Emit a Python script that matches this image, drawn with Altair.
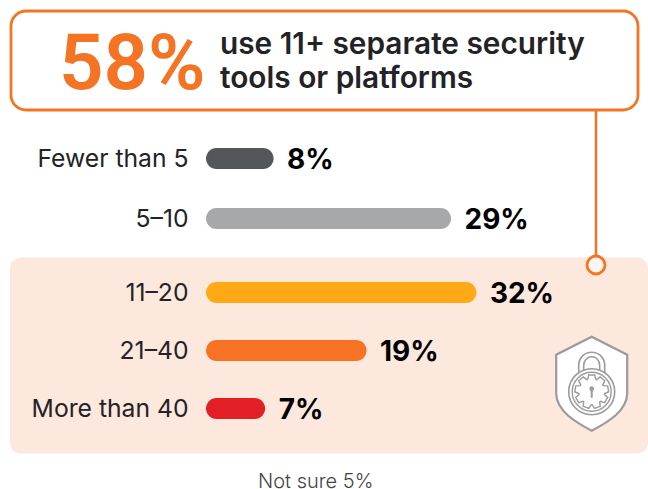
import math
import altair as alt
import pandas as pd

# Survey answers: number of separate security tools in use
categories = ["Fewer than 5", "5–10", "11–20", "21–40", "More than 40"]
shares = [8, 29, 32, 19, 7]
bar_colors = ["#54565A", "#A7A8AA", "#FFA916", "#F77223", "#E21E26"]
# distance of each row below the first one; the first two rows sit apart from the highlighted three
row_offsets = [0, 60, 134, 192, 250]

W, H = 648, 489
ORANGE = "#F47424"
PANEL = "#FDE8DD"
INK = "#232327"
FONT = "Inter"
PX_PER_POINT = 8.45
BAR_ORIGIN = 206
FIRST_ROW = 158.5

df = pd.DataFrame({
    "category": categories,
    "share": shares,
    "row": row_offsets,
    "label": [f"{v}%" for v in shares],
    "color": bar_colors,
})
single = pd.DataFrame({"k": [0]})

x_scale = alt.Scale(
    domain=[-BAR_ORIGIN / PX_PER_POINT, (W - BAR_ORIGIN) / PX_PER_POINT],
    range=[0, W], zero=False, nice=False, padding=0,
)
y_scale = alt.Scale(domain=[-FIRST_ROW, H - FIRST_ROW], range=[0, H], zero=False, nice=False, padding=0)
y_enc = alt.Y("row:Q", scale=y_scale, axis=None)


def box(x0, x1, y0, y1, **mark):
    return alt.Chart(single).mark_rect(**mark).encode(
        x=alt.value(x0), x2=alt.value(x1), y=alt.value(y0), y2=alt.value(y1)
    )


def note(text, x, y, font=FONT, **mark):
    return alt.Chart(single).mark_text(
        text=text, font=font, align="left", baseline="alphabetic", **mark
    ).encode(x=alt.value(x), y=alt.value(y))


def glyph(path, x, y, **mark):
    # size 4 makes one path unit equal one pixel
    return alt.Chart(single).mark_point(shape=path, size=4, opacity=1, **mark).encode(
        x=alt.value(x), y=alt.value(y)
    )


def gear_path(teeth, outer, inner):
    pts = []
    step = 2 * math.pi / teeth
    for i in range(teeth):
        a = i * step - math.pi / 2
        for da, r in [(-0.30, inner), (-0.17, outer), (0.17, outer), (0.30, inner)]:
            pts.append((r * math.cos(a + da * step * 1.5), r * math.sin(a + da * step * 1.5)))
    return "M" + " L".join(f"{px:.2f},{py:.2f}" for px, py in pts) + " Z"


def ring_path(r):
    return f"M{-r},0 A{r},{r} 0 1 1 {r},0 A{r},{r} 0 1 1 {-r},0 Z"


SHIELD = "M0,-47 L35.5,-29 L35.5,10 C35,27 17,38 0,47 C-17,38 -35,27 -35.5,10 L-35.5,-29 Z"
SHACKLE = "M-13,-18 L-13,-26 C-13,-44 13,-44 13,-26 L13,-18 M-8,-20 L-8,-26 C-8,-38 8,-38 8,-26 L8,-20"
KEYHOLE = "M-2.4,-3 A2.4,2.4 0 1 1 2.4,-3 L1,0 L1,6 L-1,6 L-1,0 Z"

panel = box(10, 648, 257.5, 453.5, fill=PANEL, cornerRadius=11)
connector = alt.Chart(single).mark_rule(stroke=ORANGE, strokeWidth=2.5).encode(
    x=alt.value(596), y=alt.value(110), y2=alt.value(256)
)
anchor = glyph(ring_path(9), 596, 265, fill="#FFF4EE", stroke=ORANGE, strokeWidth=2.8, filled=True)
callout = box(11, 638, 11, 110, fill="white", stroke=ORANGE, strokeWidth=2.8, cornerRadius=15)

headline = note("58%", 59, 89, font="Roboto", fontSize=78, fontWeight=600, fill=ORANGE)
line_one = note("use 11+ separate security", 220, 54, fontSize=29.8, fontWeight=600, fill=INK)
line_two = note("tools or platforms", 220, 88, fontSize=29.8, fontWeight=600, fill=INK)
footnote = note("Not sure 5%", 258, 487.5, fontSize=20, fontWeight=300, fill="#444444")

bars = alt.Chart(df).transform_calculate(zero="0").mark_bar(height=21, cornerRadius=10.5).encode(
    x=alt.X("zero:Q", scale=x_scale, axis=None),
    x2="share:Q",
    y=y_enc,
    color=alt.Color("color:N", scale=None),
)

names = alt.Chart(df).mark_text(
    font=FONT, fontSize=24.7, fontWeight=400, align="right", baseline="middle", fill=INK, dy=1,
).encode(x=alt.value(188.5), y=y_enc, text="category:N")

values = alt.Chart(df).mark_text(
    font=FONT, fontSize=28, fontWeight=700, align="left", baseline="middle",
    dx=13.5, dy=2, fill="#000000",
).encode(
    x=alt.X("share:Q", scale=x_scale, axis=None),
    y=y_enc,
    text="label:N",
)

GRAY = "#9B9B9B"
icon = [
    glyph(SHIELD, 591.7, 383.7, fill="white", stroke=GRAY, strokeWidth=2.2, filled=True),
    glyph(SHACKLE, 591.7, 391.7, stroke=GRAY, strokeWidth=1.6, filled=False),
    glyph(ring_path(23), 591.7, 391.7, fill="white", stroke=GRAY, strokeWidth=1.6, filled=True),
    glyph(ring_path(19.5), 591.7, 391.7, stroke=GRAY, strokeWidth=1.4, filled=False),
    glyph(gear_path(9, 17, 13), 591.7, 391.7, stroke=GRAY, strokeWidth=1.4, filled=False),
    glyph(KEYHOLE, 591.7, 391.7, fill=GRAY, filled=True),
]

chart = alt.layer(
    panel, connector, anchor, callout, headline, line_one, line_two, footnote,
    bars, names, values, *icon,
).properties(
    width=W, height=H, padding=0, autosize=alt.AutoSizeParams(type="none"),
    background="white",
).configure_view(stroke=None)

chart.save("out.html", embed_options={"renderer": "svg", "actions": False})
